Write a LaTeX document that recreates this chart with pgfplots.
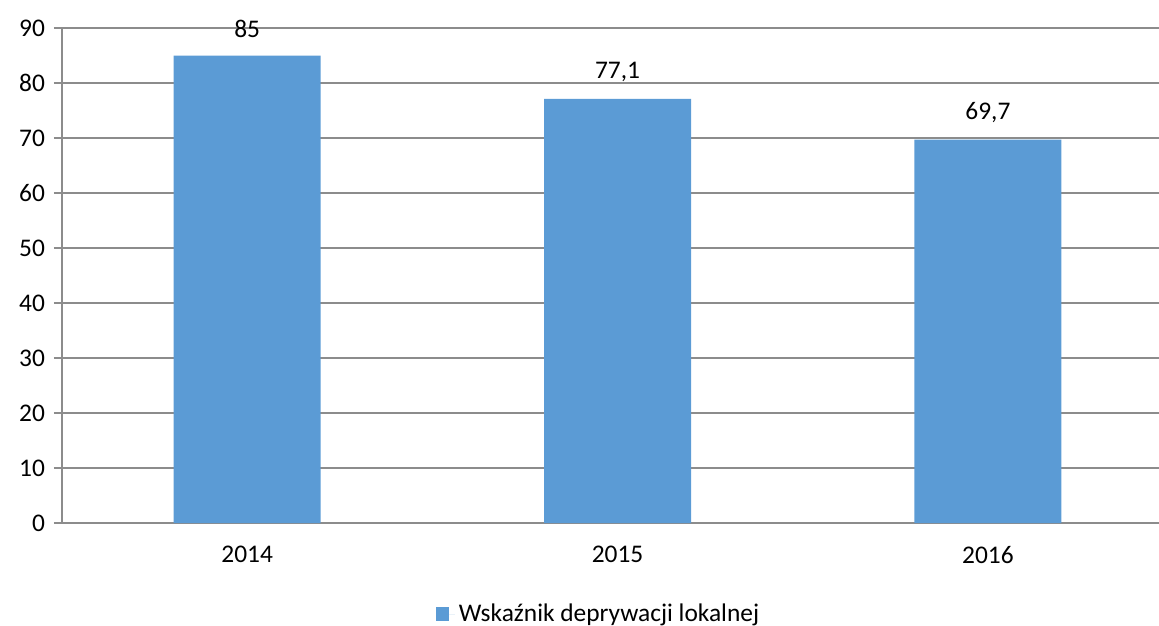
\documentclass[border=0pt]{standalone}
\usepackage{pgfplots}
\pgfplotsset{compat=1.18}
\usepackage{fontspec}
\setmainfont{Carlito}
\definecolor{barblue}{HTML}{5B9BD5}
\definecolor{gridgray}{HTML}{8C8C8C}
\begin{document}
\begin{tikzpicture}
\path[use as bounding box] (-31pt,-51pt) rectangle (548.5pt,261.5pt);
\begin{axis}[
    at={(0,0)}, anchor=south west,
    scale only axis,
    width=548.5pt, height=247.5pt,
    font=\fontsize{12.7}{15}\selectfont,
    /pgf/number format/assume math mode=true,
    /pgf/number format/use comma,
    ymin=0, ymax=90,
    ytick={0,10,...,90},
    xmin=-0.5, xmax=2.462,
    xtick={0,1,2},
    xticklabels={2014,2015,2016},
    extra x ticks={-0.5,0.5,1.5},
    extra x tick labels={},
    extra x tick style={major tick length=4pt, tick style={gridgray, line width=0.6pt}},
    x tick style={draw=none},
    y tick style={gridgray, line width=0.6pt},
    tick align=outside,
    major tick length=4pt,
    axis lines*=left,
    axis line style={gridgray, line width=0.6pt},
    ymajorgrids,
    grid style={gridgray, line width=0.6pt},
    yticklabel style={xshift=-1pt},
    xticklabel style={yshift=-4pt},
    ybar,
    bar width=73.5pt,
    nodes near coords,
    nodes near coords style={anchor=center, yshift=13.5pt, text=black},
    legend style={at={(0.49,-0.184)}, anchor=center, draw=none, font=\fontsize{12.7}{15}\selectfont},
    legend image code/.code={\fill[barblue] (-5.5pt,-3.3pt) rectangle (1pt,3.3pt); \path (1pt,0pt) -- (4pt,0pt);},
]
\addplot[fill=barblue, draw=none] coordinates {(0,85) (1,77.1) (2,69.7)};
\addlegendentry{Wskaźnik deprywacji lokalnej}
\end{axis}
\end{tikzpicture}
\end{document}
